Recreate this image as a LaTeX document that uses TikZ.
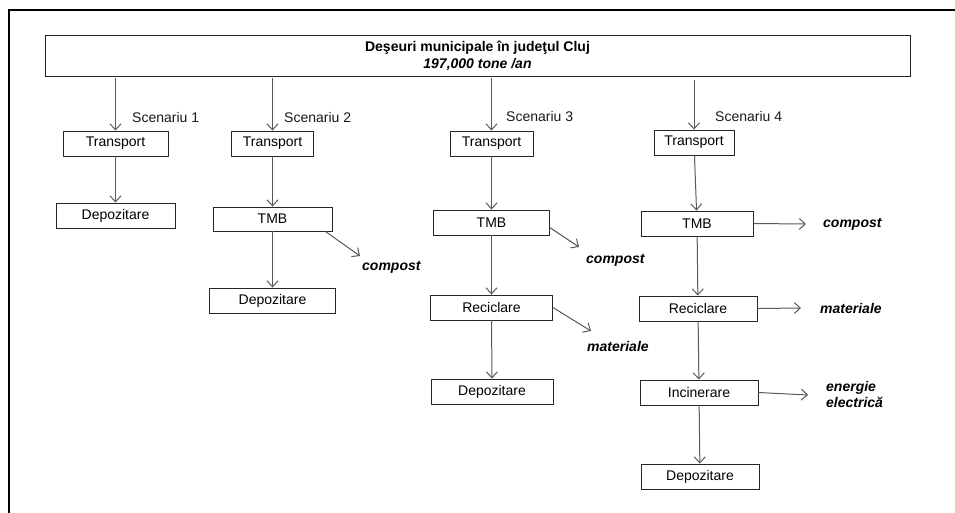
\documentclass[tikz,border=0pt]{standalone}
\usepackage{fontspec}
\setmainfont{Liberation Sans}
\usetikzlibrary{positioning,arrows.meta}
\tikzset{>={Straight Barb[length=6pt,width=11pt]}}
\tikzset{
  box/.style={draw=black!85,line width=0.9pt,minimum height=25,inner sep=0pt,
    text=black,font=\fontsize{14}{17}\selectfont},
  arr/.style={->,draw=black!65,line width=1pt},
  scen/.style={right,inner sep=0pt,text=black!90,font=\fontsize{14}{17}\selectfont},
  prod/.style={right,inner sep=0pt,align=left,font=\fontsize{14}{16}\selectfont\bfseries\itshape},
}

\begin{document}
\begin{tikzpicture}[x=1pt,y=-1pt]
\useasboundingbox (0,0) rectangle (955,512);
\draw[line width=2.5pt] (9,514) -- (9,10) -- (957,10);
\node[box,minimum width=865,minimum height=41,align=center] (title) at (477.5,55.5)
  {\textbf{Deşeuri municipale în judeţul Cluj}\\\textbf{\textit{197,000 tone /an}}};
% scenariu 1
\node[box,minimum width=105] (t1) at (115.5,143.5) {Transport};
\node[box,minimum width=119] (d1) at (115.5,215.5) {Depozitare};
\node[scen] (s1) at (132,117) {Scenariu 1};
% scenariu 2
\node[box,minimum width=82] (t2) at (272.5,143.5) {Transport};
\node[box,minimum width=119,minimum height=24] (m2) at (272.5,219) {TMB};
\node[box,minimum width=126] (d2) at (272.5,300.5) {Depozitare};
\node[scen] (s2) at (284,117) {Scenariu 2};
\node[prod] (k2) at (362,267) {compost};
\coordinate (e2) at (360,256);
% scenariu 3
\node[box,minimum width=83] (t3) at (491.5,143.5) {Transport};
\node[box,minimum width=116] (m3) at (491.5,222.5) {TMB};
\node[box,minimum width=122] (r3) at (491.5,307.5) {Reciclare};
\node[box,minimum width=122] (d3) at (492,391.5) {Depozitare};
\node[scen] (s3) at (506,116) {Scenariu 3};
\node[prod] (k3) at (586,260) {compost};
\coordinate (e3) at (579,247);
\node[prod] (k5) at (587,346) {materiale};
\coordinate (e5) at (591,331);
% scenariu 4
\node[box,minimum width=80] (t4) at (694,142.5) {Transport};
\node[box,minimum width=112] (m4) at (697,223.5) {TMB};
\node[box,minimum width=118] (r4) at (698,308.5) {Reciclare};
\node[box,minimum width=118] (i4) at (699,392.5) {Incinerare};
\node[box,minimum width=118] (d4) at (700,476.5) {Depozitare};
\node[scen] (s4) at (715,116) {Scenariu 4};
\node[prod] (k7) at (823,224) {compost};
\coordinate (e7) at (806,224);
\node[prod] (k8) at (820,308) {materiale};
\coordinate (e8) at (801,308);
\node[prod] (k9) at (826,394) {energie\\electrică};
\coordinate (e9) at (808,395);
% sageti
\draw[arr] ([yshift=-2pt]title.south -| t1) -- (t1);
\draw[arr] ([yshift=-2pt]title.south -| t2) -- (t2);
\draw[arr] ([yshift=-2pt]title.south -| t3) -- (t3);
\draw[arr] ([yshift=-4pt]title.south -| t4) -- (t4);
\draw[arr] (t1) -- (d1);
\draw[arr] (t2) -- (m2);
\draw[arr] (m2) -- (d2);
\draw[arr] ([xshift=-7pt]m2.south east) -- (e2);
\draw[arr] (t3) -- (m3);
\draw[arr] (m3) -- (r3);
\draw[arr] (r3) -- (d3);
\draw[arr] (m3.-5) -- (e3);
\draw[arr] (r3.east) -- (e5);
\draw[arr] (t4) -- (m4);
\draw[arr] (m4) -- (r4);
\draw[arr] (r4) -- (i4);
\draw[arr] (i4) -- (d4);
\draw[arr] (m4.east) -- (e7);
\draw[arr] (r4.east) -- (e8);
\draw[arr] (i4.east) -- (e9);
\end{tikzpicture}
\end{document}
